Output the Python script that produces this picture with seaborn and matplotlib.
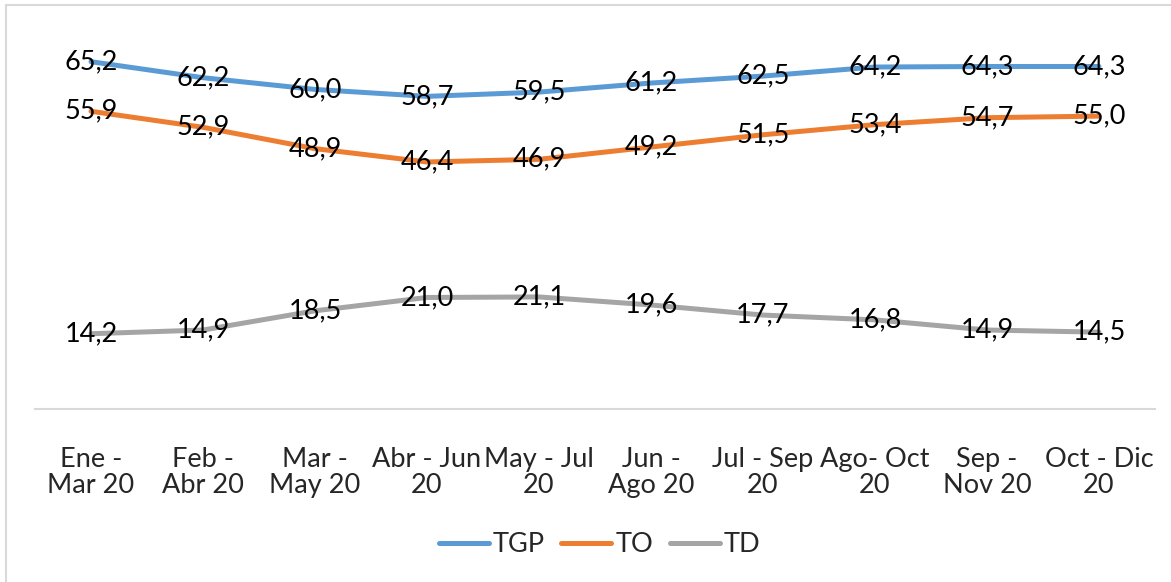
import pandas as pd
import matplotlib.pyplot as plt
import seaborn as sns
from matplotlib.lines import Line2D

# datos del gráfico
periodos = ['Ene -\nMar 20', 'Feb -\nAbr 20', 'Mar -\nMay 20', 'Abr - Jun\n20', 'May - Jul\n20',
            'Jun -\nAgo 20', 'Jul - Sep\n20', 'Ago- Oct\n20', 'Sep -\nNov 20', 'Oct - Dic\n20']
tgp = [65.2, 62.2, 60.0, 58.7, 59.5, 61.2, 62.5, 64.2, 64.3, 64.3]
to = [55.9, 52.9, 48.9, 46.4, 46.9, 49.2, 51.5, 53.4, 54.7, 55.0]
td = [14.2, 14.9, 18.5, 21.0, 21.1, 19.6, 17.7, 16.8, 14.9, 14.5]
series = ['TGP', 'TO', 'TD']
colores = ['#5B9BD5', '#ED7D31', '#A5A5A5']

sns.set_style('white')
plt.rcParams['font.family'] = ['Lato', 'DejaVu Sans']

df = pd.DataFrame({'x': list(range(len(periodos))) * 3,
                   'valor': tgp + to + td,
                   'serie': ['TGP'] * 10 + ['TO'] * 10 + ['TD'] * 10})

fig = plt.figure(figsize=(11.71, 5.82), dpi=100)
ax = fig.add_axes([0.0299, 0.2964, 0.9564, 0.6416])

sns.lineplot(data=df, x='x', y='valor', hue='serie', hue_order=series,
             palette=colores, linewidth=3.6, ax=ax, legend=False)

# etiquetas de datos con coma decimal
for vals in (tgp, to, td):
    for i, v in enumerate(vals):
        ax.text(i, v, f'{v:.1f}'.replace('.', ','), ha='center', va='center',
                fontsize=19.5, color='black')

ax.set_xlim(-0.5, len(periodos) - 0.5)
ax.set_ylim(0, 70)
ax.set_xticks(range(len(periodos)))
ax.set_xticklabels(periodos, fontsize=19.5, linespacing=1.05)
ax.tick_params(axis='x', length=0, pad=27)
ax.set_yticks([])
ax.set_xlabel('')
ax.set_ylabel('')
for s in ['top', 'right', 'left']:
    ax.spines[s].set_visible(False)
ax.spines['bottom'].set_color('#D9D9D9')
ax.spines['bottom'].set_linewidth(1.5)

# borde del área del gráfico
fig.add_artist(Line2D([6 / 1171, 6 / 1171], [0, 1 - 5 / 582], transform=fig.transFigure,
                      color='#D9D9D9', linewidth=1.5))
fig.add_artist(Line2D([6 / 1171, 1], [1 - 5 / 582, 1 - 5 / 582], transform=fig.transFigure,
                      color='#D9D9D9', linewidth=1.5))

handles = [Line2D([], [], color=c, linewidth=3.6) for c in colores]
fig.legend(handles, series, loc='center', bbox_to_anchor=(0.512, 0.064), ncol=3,
           frameon=False, fontsize=19.5, handlelength=1.85, handletextpad=0.15,
           columnspacing=0.6)

fig.savefig('out.png', dpi=100)
